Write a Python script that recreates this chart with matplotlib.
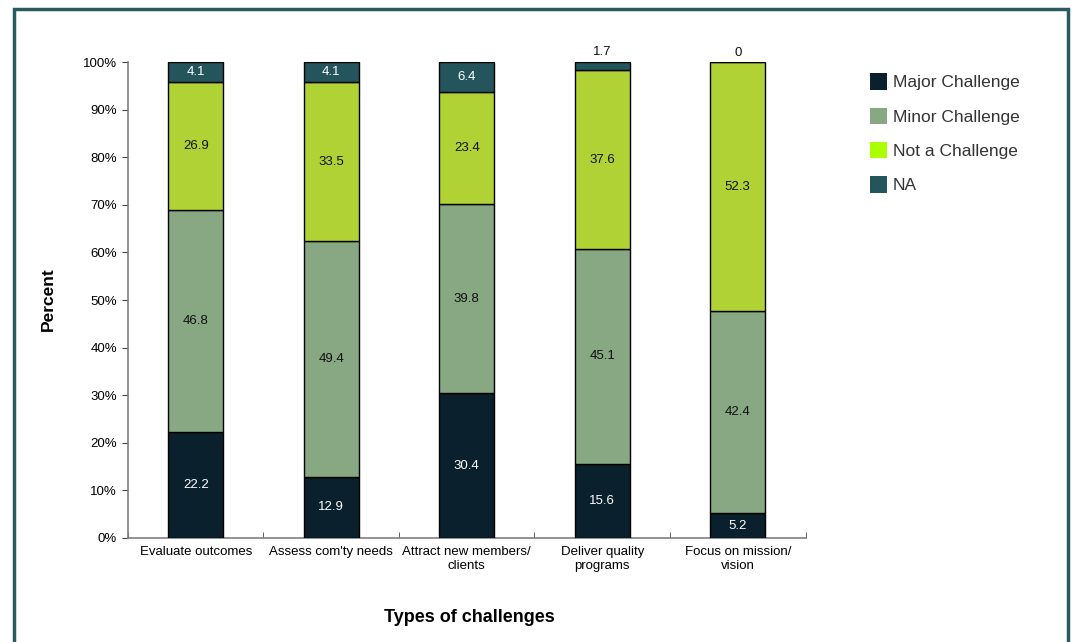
import matplotlib
matplotlib.use("Agg")
import matplotlib.pyplot as plt
from matplotlib.patches import Patch, Rectangle
import numpy as np

plt.rcParams['font.family'] = ['Liberation Sans', 'DejaVu Sans']

categories = ["Evaluate outcomes", "Assess com'ty needs", "Attract new members/\nclients",
              "Deliver quality\nprograms", "Focus on mission/\nvision"]
major = [22.2, 12.9, 30.4, 15.6, 5.2]
minor = [46.8, 49.4, 39.8, 45.1, 42.4]
not_challenge = [26.9, 33.5, 23.4, 37.6, 52.3]
na = [4.1, 4.1, 6.4, 1.7, 0]
series_names = ["Major Challenge", "Minor Challenge", "Not a Challenge", "NA"]
yticks = [0, 10, 20, 30, 40, 50, 60, 70, 80, 90, 100]

colors = ["#0a202c", "#87a883", "#b0d235", "#24555c"]
legend_colors = ["#0a202c", "#87a883", "#aaff00", "#24555c"]
text_colors = ["white", "#111111", "#111111", "white"]

fig = plt.figure(figsize=(10.72, 6.42), dpi=100)
ax = fig.add_axes([0.1194, 0.162, 0.632, 0.7414])

x = np.arange(len(categories))
width = 0.405
bottom = np.zeros(len(categories))
for vals, col, tcol in zip([major, minor, not_challenge, na], colors, text_colors):
    vals = np.array(vals)
    ax.bar(x, vals, width, bottom=bottom, color=col, edgecolor="black", linewidth=1.0, zorder=3)
    for xi, b, v in zip(x, bottom, vals):
        if v >= 3:
            ax.text(xi, b + v / 2, f"{v:g}", ha="center", va="center", color=tcol, fontsize=9.5, zorder=4)
        else:
            ax.text(xi, b + v + 0.8, f"{v:g}", ha="center", va="bottom", color="#111111", fontsize=9.5, zorder=4)
    bottom += vals

ax.set_xlim(-0.5, len(categories) - 0.5)
ax.set_ylim(0, 100)
ax.set_yticks(yticks)
ax.set_yticklabels([f"{t}%" for t in yticks], fontsize=9.5)
ax.set_xticks(x)
ax.set_xticklabels(categories, fontsize=9.5)
ax.set_xticks(np.arange(-0.5, len(categories)), minor=True)
ax.tick_params(axis="x", which="major", length=0, pad=6)
ax.tick_params(axis="x", which="minor", length=4, color="#444444", direction="in")
ax.tick_params(axis="y", length=4, color="#444444", direction="out", pad=4)
for s in ["top", "right"]:
    ax.spines[s].set_visible(False)
for s in ["left", "bottom"]:
    ax.spines[s].set_color("#808080")
    ax.spines[s].set_linewidth(1.2)

fig.text(0.045, 0.5345, "Percent", rotation=90, ha="center", va="center", fontsize=12.5, fontweight="bold")
fig.text(0.4375, 0.038, "Types of challenges", ha="center", va="center", fontsize=13, fontweight="bold")

handles = [Patch(facecolor=c, edgecolor="none") for c in legend_colors]
fig.legend(handles, series_names, loc="upper left", bbox_to_anchor=(0.797, 0.91),
           frameon=False, fontsize=12.5, handlelength=1.0, handleheight=1.05,
           handletextpad=0.3, labelspacing=1.0, labelcolor="#333333")

# outer frame
fig.patches.append(Rectangle((0.0135, -0.02), 0.983, 1.006, transform=fig.transFigure,
                             fill=False, edgecolor="#2a5a60", linewidth=2.5, clip_on=False))

fig.savefig("out.png", dpi=100)
